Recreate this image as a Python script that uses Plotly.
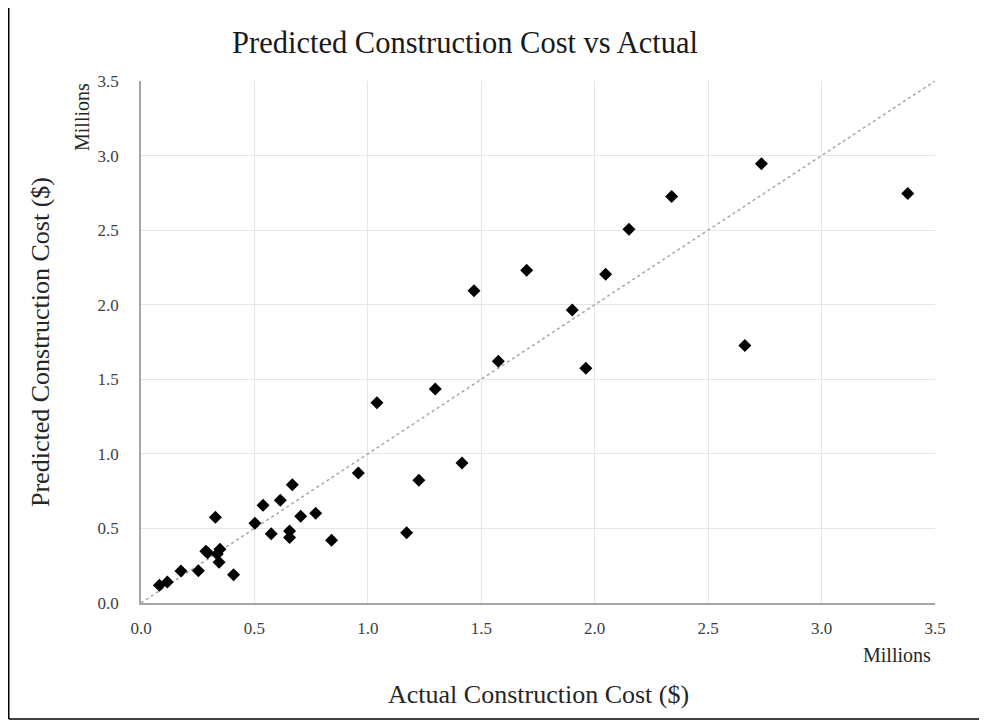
import plotly.graph_objects as go

# Values in millions of dollars
actual_cost = [0.081, 0.116, 0.176, 0.253, 0.286, 0.294, 0.336, 0.348, 0.344, 0.408,
               0.328, 0.502, 0.538, 0.614, 0.667, 0.574, 0.655, 0.655, 0.704, 0.770,
               0.840, 0.958, 1.040, 1.171, 1.225, 1.297, 1.415, 1.468, 1.575, 1.700,
               1.901, 1.961, 2.048, 2.151, 2.339, 2.662, 2.735, 3.380]
predicted_cost = [0.119, 0.141, 0.215, 0.217, 0.347, 0.337, 0.329, 0.360, 0.273, 0.190,
                  0.575, 0.535, 0.655, 0.689, 0.793, 0.465, 0.483, 0.440, 0.581, 0.601,
                  0.420, 0.872, 1.342, 0.471, 0.823, 1.435, 0.939, 2.093, 1.621, 2.231,
                  1.965, 1.574, 2.204, 2.506, 2.725, 1.726, 2.946, 2.745]
identity_line = [0.0, 3.5]
tick_values = [0.0, 0.5, 1.0, 1.5, 2.0, 2.5, 3.0, 3.5]
tick_labels = ["0.0", "0.5", "1.0", "1.5", "2.0", "2.5", "3.0", "3.5"]

# page has an 8px body margin; figure coordinates = page coordinates - 8
OFF = 8
W, H = 971, 712
L, R, T, B = 133, 44, 73, 117
PW, PH = W - L - R, H - T - B

def px(x_page):
    return (x_page - OFF - L) / PW

def py(y_page):
    return (H - B - (y_page - OFF)) / PH

FONT = "Liberation Serif, Times New Roman, serif"

fig = go.Figure()
fig.add_trace(go.Scatter(
    x=identity_line, y=identity_line, mode="lines",
    line=dict(color="#a6a6a6", width=1.5, dash="dot"),
    hoverinfo="skip", showlegend=False))
fig.add_trace(go.Scatter(
    x=actual_cost, y=predicted_cost, mode="markers",
    marker=dict(symbol="diamond", size=10, color="#000000"),
    showlegend=False))

axis_common = dict(
    range=[0, 3.5], tickvals=tick_values, ticktext=tick_labels,
    showgrid=True, gridcolor="#e6e6e6", gridwidth=1,
    showline=True, linecolor="#a6a6a6", linewidth=1.5,
    zeroline=False, ticks="",
    tickfont=dict(family=FONT, size=17, color="#404040"),
    fixedrange=True,
)

frame_line = dict(color="#000000", width=1.5)

fig.update_layout(
    width=W, height=H,
    margin=dict(l=L, r=R, t=T, b=B),
    paper_bgcolor="white", plot_bgcolor="white",
    font=dict(family=FONT, color="#262626"),
    title=dict(text="Predicted Construction Cost vs Actual",
               font=dict(family=FONT, size=30.5, color="#1a1a1a"),
               x=(465 - OFF) / W, xanchor="center", xref="container",
               y=1 - (42 - OFF) / H, yanchor="middle", yref="container"),
    xaxis=dict(**axis_common, ticklabelstandoff=9),
    yaxis=dict(**axis_common, ticklabelstandoff=17),
    annotations=[
        dict(text="Millions", x=px(82), y=py(117), xref="paper", yref="paper",
             textangle=-90, showarrow=False, xanchor="center", yanchor="middle",
             font=dict(family=FONT, size=20, color="#262626")),
        dict(text="Millions", x=px(897), y=py(655), xref="paper", yref="paper",
             showarrow=False, xanchor="center", yanchor="middle",
             font=dict(family=FONT, size=20, color="#262626")),
        dict(text="Predicted Construction Cost ($)", x=px(40), y=0.5,
             xref="paper", yref="paper", textangle=-90, showarrow=False,
             xanchor="center", yanchor="middle",
             font=dict(family=FONT, size=26, color="#262626")),
        dict(text="Actual Construction Cost ($)", x=0.5, y=py(694),
             xref="paper", yref="paper", showarrow=False,
             xanchor="center", yanchor="middle",
             font=dict(family=FONT, size=26, color="#262626")),
    ],
    shapes=[
        dict(type="line", xref="paper", yref="paper",
             x0=px(8.75), x1=px(8.75), y0=py(719), y1=py(0),
             line=frame_line, layer="below"),
        dict(type="line", xref="paper", yref="paper",
             x0=px(8.75), x1=px(987), y0=py(719), y1=py(719),
             line=frame_line, layer="below"),
    ],
)

fig.write_html("out.html")
